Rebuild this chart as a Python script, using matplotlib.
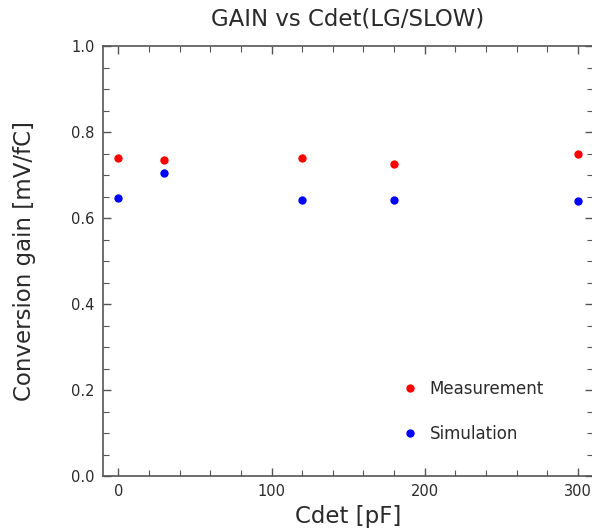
import matplotlib
matplotlib.use("Agg")
import matplotlib.pyplot as plt
from matplotlib.ticker import MultipleLocator

# values
cdet = [0, 30, 120, 180, 300]
measurement = [0.740, 0.735, 0.740, 0.725, 0.750]
simulation = [0.646, 0.705, 0.643, 0.642, 0.640]

axis_col = "#555555"
text_col = "#2a2a2a"

fig = plt.figure(figsize=(5.92, 5.32), dpi=100)
ax = fig.add_axes([0.174, 0.105, 0.828, 0.8085])

ax.plot(cdet, measurement, "o", color="red", ms=6, mec="none", label="Measurement")
ax.plot(cdet, simulation, "o", color="blue", ms=6, mec="none", label="Simulation")

ax.set_xlim(-10, 310)
ax.set_ylim(0, 1.0)
ax.xaxis.set_major_locator(MultipleLocator(100))
ax.xaxis.set_minor_locator(MultipleLocator(20))
ax.yaxis.set_major_locator(MultipleLocator(0.2))
ax.yaxis.set_minor_locator(MultipleLocator(0.05))
ax.yaxis.set_major_formatter(plt.FuncFormatter(lambda v, p: "%.1f" % v))

ax.tick_params(which="both", direction="in", top=True, right=True,
               color=axis_col, labelcolor=text_col, labelsize=10.5, pad=6)
ax.tick_params(which="major", length=6, width=1)
ax.tick_params(which="minor", length=4, width=0.8)
for s in ax.spines.values():
    s.set_color(axis_col)
    s.set_linewidth(1.2)

ax.set_title("GAIN vs Cdet(LG/SLOW)", fontsize=16.5, color=text_col, pad=15)
ax.set_xlabel("Cdet [pF]", fontsize=16.5, color=text_col, labelpad=4)
ax.set_ylabel("Conversion gain [mV/fC]", fontsize=16.5, color=text_col, labelpad=25)

ax.legend(loc="upper left", bbox_to_anchor=(0.578, 0.258), frameon=False,
          fontsize=12, labelspacing=1.6, handletextpad=0.7, handlelength=1.0,
          labelcolor=text_col)

fig.savefig("out.png", dpi=100)
